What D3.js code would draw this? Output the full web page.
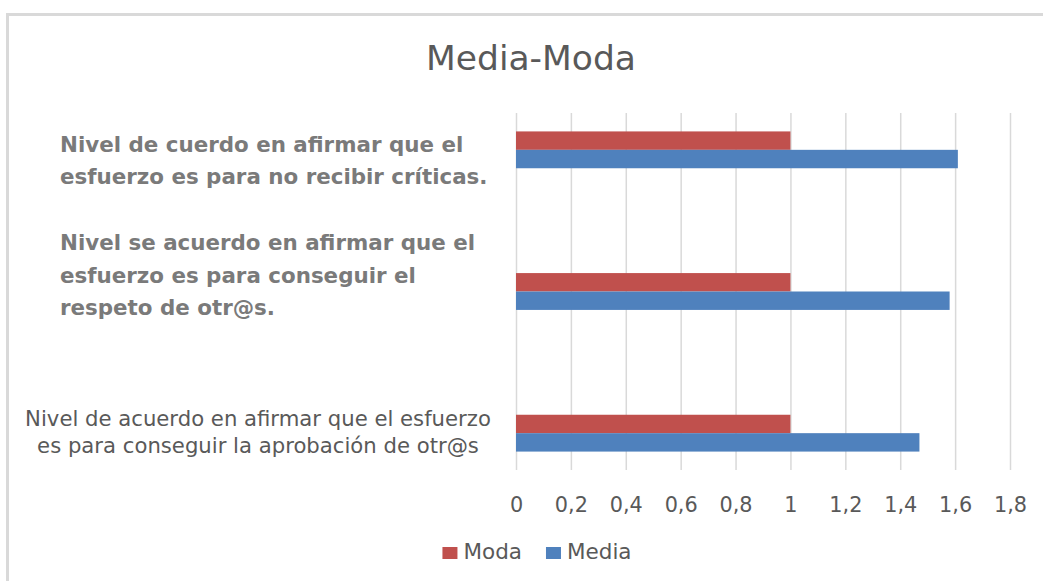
<!DOCTYPE html>
<html>
<head>
<meta charset="utf-8">
<script src="https://cdn.jsdelivr.net/npm/d3@7"></script>
<style>
  html, body { margin: 0; padding: 0; background: #fff; }
  svg { display: block; }
</style>
</head>
<body>
<svg id="chart" width="1043" height="581"></svg>
<script>
// ---- data ----
const title = "Media-Moda";
const categories = [
  "Nivel de cuerdo en afirmar que el esfuerzo es para no recibir críticas.",
  "Nivel se acuerdo en afirmar que el esfuerzo es para conseguir el respeto de otr@s.",
  "Nivel de acuerdo en afirmar que el esfuerzo es para conseguir la aprobación de otr@s"
];
const categoryLines = [
  ["Nivel de cuerdo en afirmar que el", "esfuerzo es para no recibir críticas."],
  ["Nivel se acuerdo en afirmar que el", "esfuerzo es para conseguir el", "respeto de otr@s."],
  ["Nivel de acuerdo en afirmar que el esfuerzo", "es para conseguir la aprobación de otr@s"]
];
const seriesNames = ["Moda", "Media"];
const modaValues = [1, 1, 1];
const mediaValues = [1.61, 1.58, 1.47];
const tickValues = [0, 0.2, 0.4, 0.6, 0.8, 1, 1.2, 1.4, 1.6, 1.8];
const tickLabels = ["0", "0,2", "0,4", "0,6", "0,8", "1", "1,2", "1,4", "1,6", "1,8"];

// ---- layout / style ----
const colors = { Moda: "#C0504D", Media: "#4F81BD" };
const textGray = "#595959";
const font = "'DejaVu Sans', Verdana, sans-serif";
const gridTop = 113, gridBottom = 470;

const svg = d3.select("#chart");
svg.append("rect").attr("width", 1043).attr("height", 581).attr("fill", "#fff");
svg.append("rect")
  .attr("x", 7.5).attr("y", 14.5).attr("width", 1045).attr("height", 590)
  .attr("fill", "none").attr("stroke", "#d9d9d9").attr("stroke-width", 3);

const x = d3.scaleLinear().domain([0, 1.8]).range([516, 1010]);
const y = d3.scaleBand().domain(categories).range([79, 504])
  .paddingInner(0.74).paddingOuter(0.37);
const ySub = d3.scaleBand().domain(seriesNames).range([0, y.bandwidth()]);

// title
svg.append("text")
  .attr("x", 531).attr("y", 70)
  .attr("text-anchor", "middle")
  .attr("font-family", font).attr("font-size", 34.5)
  .attr("fill", textGray)
  .text(title);

// axis + gridlines
const axis = d3.axisBottom(x)
  .tickValues(tickValues)
  .tickFormat((d, i) => tickLabels[i])
  .tickSizeInner(-(gridBottom - gridTop))
  .tickSizeOuter(0)
  .tickPadding(27);
const gAxis = svg.append("g").attr("transform", `translate(0,${gridBottom})`).call(axis);
gAxis.select(".domain").remove();
gAxis.selectAll(".tick line").attr("stroke", "#d9d9d9").attr("stroke-width", 1.5);
gAxis.selectAll(".tick text")
  .attr("font-family", font).attr("font-size", 20.8).attr("fill", textGray);

// bars
const rows = categories.map((c, i) => ({ cat: c, Moda: modaValues[i], Media: mediaValues[i] }));
const groups = svg.append("g").selectAll("g").data(rows).join("g")
  .attr("transform", d => `translate(0,${y(d.cat)})`);
groups.selectAll("rect")
  .data(d => seriesNames.map(s => ({ s, v: d[s] })))
  .join("rect")
  .attr("x", x(0))
  .attr("y", d => ySub(d.s))
  .attr("width", d => x(d.v) - x(0))
  .attr("height", ySub.bandwidth())
  .attr("fill", d => colors[d.s]);

// category labels
const labelStyles = [
  { x: 60, anchor: "start", weight: "bold", color: "#7a7a7a", size: 21.4, lh: 31.5, first: 152 },
  { x: 60, anchor: "start", weight: "bold", color: "#7a7a7a", size: 21.4, lh: 32.5, first: 250 },
  { x: 258, anchor: "middle", weight: "normal", color: textGray, size: 21.2, lh: 27, first: 426 }
];
categoryLines.forEach((lines, i) => {
  const st = labelStyles[i];
  const t = svg.append("text")
    .attr("font-family", font).attr("font-size", st.size)
    .attr("font-weight", st.weight).attr("fill", st.color)
    .attr("text-anchor", st.anchor);
  lines.forEach((ln, j) => {
    t.append("tspan").attr("x", st.x).attr("y", st.first + j * st.lh).text(ln);
  });
});

// legend
const legend = svg.append("g");
const items = legend.selectAll("g").data(seriesNames).join("g");
items.append("rect").attr("width", 15).attr("height", 12).attr("y", 547)
  .attr("fill", d => colors[d]);
items.append("text").attr("y", 559)
  .attr("font-family", font).attr("font-size", 21.5).attr("fill", textGray)
  .text(d => d);
const widths = [];
items.each(function () {
  widths.push(d3.select(this).select("text").node().getComputedTextLength());
});
const total = widths.reduce((a, w) => a + 15 + 6 + w, 0) + 24 * (seriesNames.length - 1);
let cx = 537 - total / 2;
items.each(function (d, i) {
  const g = d3.select(this);
  g.select("rect").attr("x", cx);
  g.select("text").attr("x", cx + 21);
  cx += 15 + 6 + widths[i] + 24;
});
</script>
</body>
</html>
